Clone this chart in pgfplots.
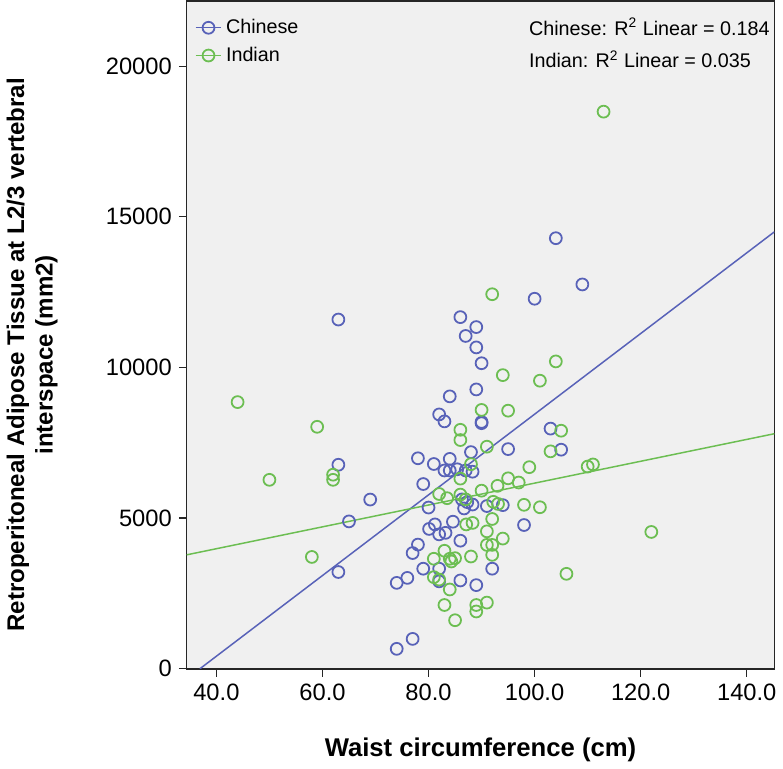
\documentclass[border=0pt]{standalone}
\usepackage{fontspec}
\setmainfont{Liberation Sans}
\usepackage{pgfplots}
\pgfplotsset{compat=1.18}
\definecolor{cblue}{RGB}{88,98,184}
\definecolor{cgreen}{RGB}{108,190,82}
\definecolor{bggray}{RGB}{240,240,240}
\begin{document}
\begin{tikzpicture}
\begin{axis}[
  scale only axis, width=296.5bp, height=337bp,
  xmin=34.4, xmax=145.2, ymin=0, ymax=22170,
  axis background/.style={fill=bggray},
  axis line style={line width=0.8bp, draw=black!85},
  xtick={40,60,...,140}, ytick={0,5000,...,20000},
  tick align=outside, tick pos=left, major tick length=4bp,
  tick style={line width=0.6bp, black!85},
  /pgf/number format/assume math mode=true,
  scaled y ticks=false, scaled x ticks=false,
  xticklabel style={font=\fontsize{12}{14}\selectfont, /pgf/number format/.cd, fixed, fixed zerofill, precision=1},
  yticklabel style={font=\fontsize{12}{14}\selectfont, /pgf/number format/.cd, fixed, 1000 sep={}},
  xlabel={Waist circumference (cm)},
  ylabel={Retroperitoneal Adipose Tissue at L2/3 vertebral\\interspace (mm2)},
  xlabel style={font=\bfseries\fontsize{13}{15}\selectfont, at={(axis description cs:0.5,-0.121)}, anchor=center},
  ylabel style={font=\bfseries\fontsize{12.2}{14.5}\selectfont, align=center, at={(axis description cs:-0.263,0.47)}, anchor=center},
  legend style={at={(axis description cs:0.01,0.982)}, anchor=north west, draw=none, fill=none,
    font=\fontsize{10}{12}\selectfont, row sep=1.3bp, inner sep=1bp, cells={anchor=west}},
  legend image code/.code={\draw[#1, mark repeat=2, mark phase=2] plot coordinates {(0bp,0bp) (6.5bp,0bp) (13bp,0bp)};},
]
\addlegendimage{cblue, line width=0.7bp, mark=o, mark size=3bp, mark options={line width=0.9bp}}
\addlegendentry{Chinese}
\addlegendimage{cgreen, line width=0.7bp, mark=o, mark size=3bp, mark options={line width=0.9bp}}
\addlegendentry{Indian}

% Chinese
\addplot[forget plot, only marks, mark=o, mark size=3bp, cblue, mark options={line width=0.9bp}] coordinates {
(63,11590) (63,6770) (69,5615) (65,4890) (63,3210)
(86,11670) (89,11340) (87,11045) (89,10665) (90,10140)
(89,9270) (84,9040) (82,8440) (83,8210) (90,8190) (90,8150)
(104,14290) (109,12755) (100,12280)
(88,7190) (78,6985) (84,6965) (81,6795) (83,6580) (84,6580) (85.4,6620) (87,6580) (88.3,6540)
(95,7290) (103,7970) (105,7270) (79,6130)
(86.3,5620) (87.3,5530) (88.3,5450) (86.7,5320) (80,5350) (91,5400) (94,5430)
(98,4770) (81.2,4790) (80.1,4640) (82,4460) (83.2,4510) (84.6,4880) (86,4250)
(78,4120) (77,3840) (92,3320) (79,3320) (82,3320) (82,2900) (76,3015) (74,2850)
(86,2930) (89,2775) (77,990) (74,660)
};
% Indian
\addplot[forget plot, only marks, mark=o, mark size=3bp, cgreen, mark options={line width=0.9bp}] coordinates {
(44,8850) (59,8030) (62,6440) (62,6270) (50,6270) (58,3710)
(113,18490) (92,12430) (104,10200) (94,9745) (101,9560)
(90,8590) (95,8565) (86,7930) (86,7590) (91,7370)
(105,7900) (103,7215) (99,6690) (110,6710) (111,6780)
(88,6790) (86,6310) (95,6320) (97,6180) (93,6070) (90,5910)
(82,5800) (83.5,5660) (86,5780) (87,5620) (92.2,5540) (93.1,5470) (98,5440) (101,5360)
(92,4970) (87.1,4790) (88.3,4840) (91,4560) (94,4320) (91,4110) (92,4110) (92,3780) (88,3725)
(81,3650) (83,3915) (84,3650) (85,3670) (84.3,3560) (81,3040) (82,2960) (84,2630)
(83,2115) (89,2115) (89,1900) (91,2195) (85,1610) (106,3150) (122,4540)
};
% fit lines
\addplot[forget plot, cblue, line width=0.75bp] coordinates {(36.9,0) (145.2,14500)};
\addplot[forget plot, cgreen, line width=0.75bp] coordinates {(34.4,3780) (145.2,7800)};

\node[anchor=west, font=\fontsize{10}{12}\selectfont, inner sep=0pt] at (axis description cs:0.582,0.961) {Chinese: R\textsuperscript{2} Linear = 0.184};
\node[anchor=west, font=\fontsize{10}{12}\selectfont, inner sep=0pt] at (axis description cs:0.582,0.912) {Indian: R\textsuperscript{2} Linear = 0.035};
\end{axis}
\end{tikzpicture}
\end{document}
